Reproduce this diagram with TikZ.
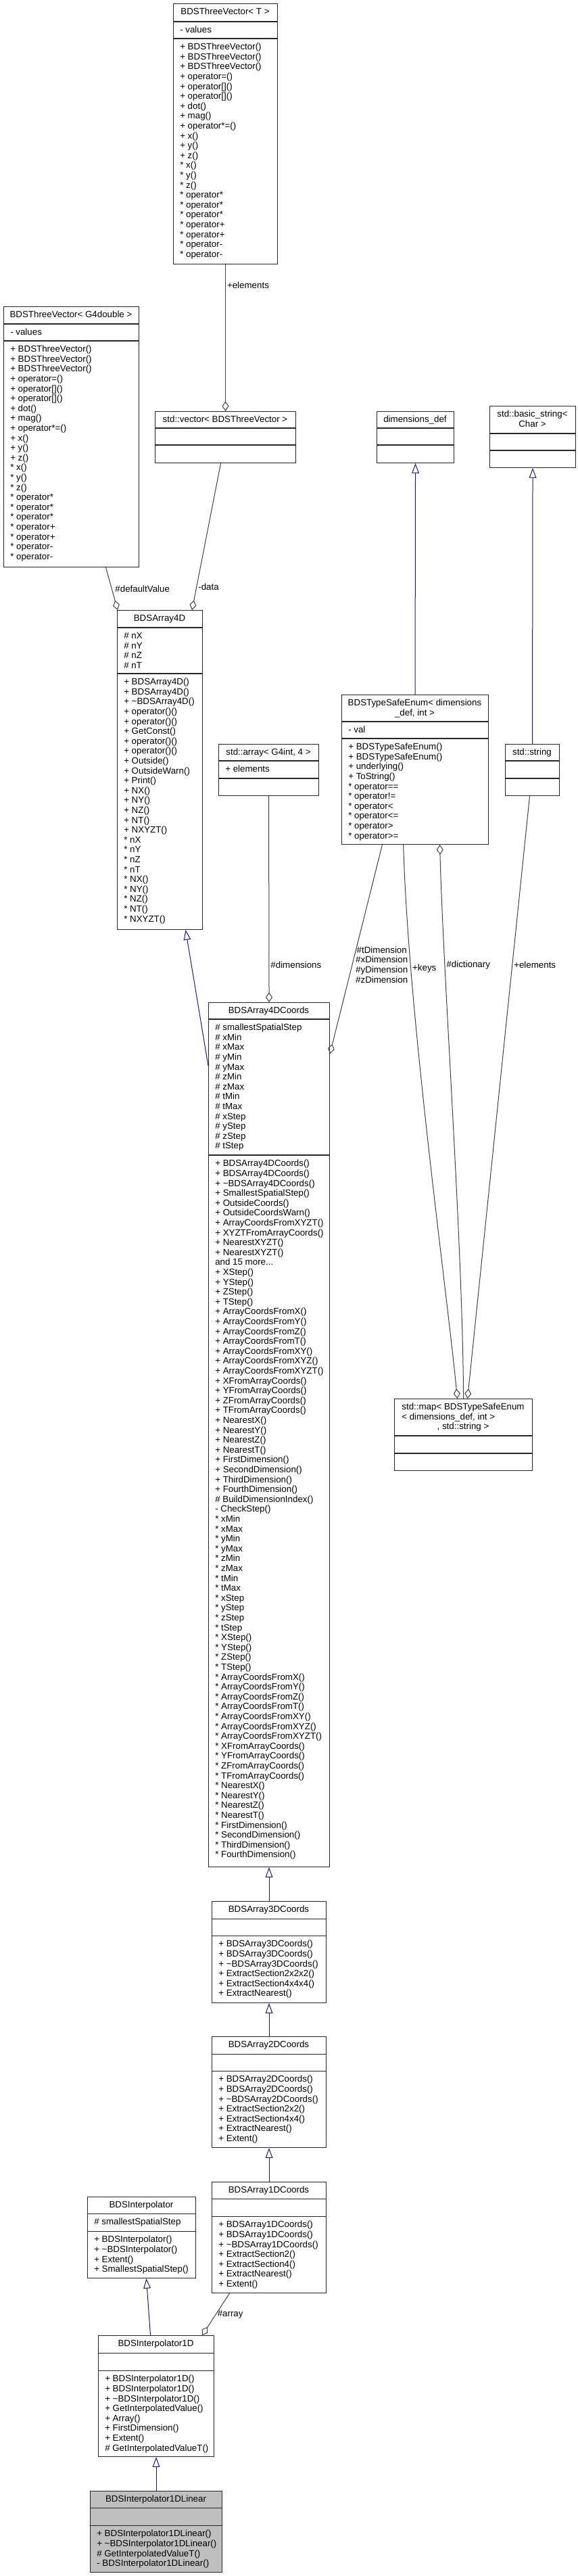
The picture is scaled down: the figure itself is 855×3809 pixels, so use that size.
\documentclass[tikz,border=0pt]{standalone}
\usepackage{fontspec}
\setmainfont{Liberation Sans}
\usetikzlibrary{arrows.meta}
\definecolor{edgegray}{HTML}{404040}
\definecolor{inheritblue}{HTML}{191970}
\definecolor{selfgray}{HTML}{BFBFBF}
\newcommand{\umlfont}{\fontsize{10}{10.95}\selectfont}
\newcommand{\umlstrut}{\rule{0pt}{9pt}}
\tikzset{
  classbox/.style={draw=black!85, line width=0.8pt, fill=white, anchor=north west, inner sep=0pt},
  classline/.style={draw=black!85, line width=0.8pt},
  titletext/.style={anchor=north, yshift=9pt, align=center, inner sep=0pt, font=\umlfont},
  membertext/.style={anchor=north west, yshift=9pt, align=left, inner sep=0pt, font=\umlfont},
  edgelabel/.style={inner sep=1.5pt, align=center, font=\umlfont},
  aggr/.style={draw=edgegray, line width=0.75pt, -{Diamond[open, length=11pt, width=7.5pt]}},
  inherit/.style={draw=inheritblue, line width=0.75pt, -{Triangle[open, length=11pt, width=8pt]}}
}
\newcommand{\umlclass}[9][]{%
  \node[classbox, #1, minimum width={(#4-#3)*0.75pt}, minimum height={(#8-#5)*0.75pt}] (#2) at (#3,#5) {};
  \draw[classline] (#3,#6) -- (#4,#6) (#3,#7) -- (#4,#7);
  \node[titletext] (#2-title) at ({(#3+#4)/2},#5+16.5) {\umlstrut#9};
  \def\umlname{#2}\def\umlleft{#3}\def\umlattr{#6}\def\umlmeth{#7}%
  \umlmembers}
\newcommand{\umlmembers}[2]{%
  \node[membertext] (\umlname-attr) at (\umlleft+10,\umlattr+16.5) {\umlstrut#1};
  \node[membertext] (\umlname-meth) at (\umlleft+10,\umlmeth+16.5) {\umlstrut#2};}

\begin{document}
\begin{tikzpicture}[x=0.75pt, y=-0.75pt]
\path[use as bounding box, fill=white] (0,0) rectangle (855,3809);
\umlclass{tv}{256}{410}{5}{32}{57}{390}{BDSThreeVector< T >}
  {- values}
  {+ BDSThreeVector()\\+ BDSThreeVector()\\+ BDSThreeVector()\\+ operator=()\\+ operator[]()\\+ operator[]()\\+ dot()\\+ mag()\\+ operator*=()\\+ x()\\+ y()\\+ z()\\{*} x()\\{*} y()\\{*} z()\\{*} operator*\\{*} operator*\\{*} operator*\\{*} operator+\\{*} operator+\\{*} operator-\\{*} operator-}
\umlclass{g4}{5}{205}{453}{479}{504}{838}{BDSThreeVector< G4double >}
  {- values}
  {+ BDSThreeVector()\\+ BDSThreeVector()\\+ BDSThreeVector()\\+ operator=()\\+ operator[]()\\+ operator[]()\\+ dot()\\+ mag()\\+ operator*=()\\+ x()\\+ y()\\+ z()\\{*} x()\\{*} y()\\{*} z()\\{*} operator*\\{*} operator*\\{*} operator*\\{*} operator+\\{*} operator+\\{*} operator-\\{*} operator-}
\umlclass{vec}{229}{437}{608}{633}{658}{684}{std::vector< BDSThreeVector >}{}{}
\umlclass{dimdef}{557}{671}{608}{633}{658}{684}{dimensions\_def}{}{}
\umlclass{bstr}{724}{851}{600}{641}{666}{691}{std::basic\_string<\\Char >}{}{}
\umlclass{a4d}{173}{299}{902}{928}{996}{1374}{BDSArray4D}
  {\# nX\\\# nY\\\# nZ\\\# nT}
  {+ BDSArray4D()\\+ BDSArray4D()\\+ \textasciitilde BDSArray4D()\\+ operator()()\\+ operator()()\\+ GetConst()\\+ operator()()\\+ operator()()\\+ Outside()\\+ OutsideWarn()\\+ Print()\\+ NX()\\+ NY()\\+ NZ()\\+ NT()\\+ NXYZT()\\{*} nX\\{*} nY\\{*} nZ\\{*} nT\\{*} NX()\\{*} NY()\\{*} NZ()\\{*} NT()\\{*} NXYZT()}
\umlclass{arr}{323}{471}{1100}{1125}{1151}{1176}{std::array< G4int, 4 >}{+ elements}{}
\umlclass{enum}{505}{722}{1027}{1067}{1092}{1248}{BDSTypeSafeEnum< dimensions\\\_def, int >}
  {- val}
  {+ BDSTypeSafeEnum()\\+ BDSTypeSafeEnum()\\+ underlying()\\+ ToString()\\{*} operator==\\{*} operator!=\\{*} operator<\\{*} operator<=\\{*} operator>\\{*} operator>=}
\umlclass{str}{747}{827}{1100}{1125}{1151}{1176}{std::string}{}{}
\umlclass{c4}{308}{487}{1482}{1507}{1708}{2760}{BDSArray4DCoords}
  {\# smallestSpatialStep\\\# xMin\\\# xMax\\\# yMin\\\# yMax\\\# zMin\\\# zMax\\\# tMin\\\# tMax\\\# xStep\\\# yStep\\\# zStep\\\# tStep}
  {+ BDSArray4DCoords()\\+ BDSArray4DCoords()\\+ \textasciitilde BDSArray4DCoords()\\+ SmallestSpatialStep()\\+ OutsideCoords()\\+ OutsideCoordsWarn()\\+ ArrayCoordsFromXYZT()\\+ XYZTFromArrayCoords()\\+ NearestXYZT()\\+ NearestXYZT()\\and 15 more...\\+ XStep()\\+ YStep()\\+ ZStep()\\+ TStep()\\+ ArrayCoordsFromX()\\+ ArrayCoordsFromY()\\+ ArrayCoordsFromZ()\\+ ArrayCoordsFromT()\\+ ArrayCoordsFromXY()\\+ ArrayCoordsFromXYZ()\\+ ArrayCoordsFromXYZT()\\+ XFromArrayCoords()\\+ YFromArrayCoords()\\+ ZFromArrayCoords()\\+ TFromArrayCoords()\\+ NearestX()\\+ NearestY()\\+ NearestZ()\\+ NearestT()\\+ FirstDimension()\\+ SecondDimension()\\+ ThirdDimension()\\+ FourthDimension()\\\# BuildDimensionIndex()\\- CheckStep()\\{*} xMin\\{*} xMax\\{*} yMin\\{*} yMax\\{*} zMin\\{*} zMax\\{*} tMin\\{*} tMax\\{*} xStep\\{*} yStep\\{*} zStep\\{*} tStep\\{*} XStep()\\{*} YStep()\\{*} ZStep()\\{*} TStep()\\{*} ArrayCoordsFromX()\\{*} ArrayCoordsFromY()\\{*} ArrayCoordsFromZ()\\{*} ArrayCoordsFromT()\\{*} ArrayCoordsFromXY()\\{*} ArrayCoordsFromXYZ()\\{*} ArrayCoordsFromXYZT()\\{*} XFromArrayCoords()\\{*} YFromArrayCoords()\\{*} ZFromArrayCoords()\\{*} TFromArrayCoords()\\{*} NearestX()\\{*} NearestY()\\{*} NearestZ()\\{*} NearestT()\\{*} FirstDimension()\\{*} SecondDimension()\\{*} ThirdDimension()\\{*} FourthDimension()}
\umlclass{map}{583}{787}{2068}{2123}{2149}{2174}{std::map< BDSTypeSafeEnum\\\makebox[136pt][l]{< dimensions\_def, int >}\\, std::string >}{}{}
\umlclass{c3}{313}{482}{2811}{2837}{2862}{2961}{BDSArray3DCoords}
  {}
  {+ BDSArray3DCoords()\\+ BDSArray3DCoords()\\+ \textasciitilde BDSArray3DCoords()\\+ ExtractSection2x2x2()\\+ ExtractSection4x4x4()\\+ ExtractNearest()}
\umlclass{c2}{313}{482}{3011}{3037}{3062}{3175}{BDSArray2DCoords}
  {}
  {+ BDSArray2DCoords()\\+ BDSArray2DCoords()\\+ \textasciitilde BDSArray2DCoords()\\+ ExtractSection2x2()\\+ ExtractSection4x4()\\+ ExtractNearest()\\+ Extent()}
\umlclass{c1}{313}{482}{3226}{3251}{3277}{3390}{BDSArray1DCoords}
  {}
  {+ BDSArray1DCoords()\\+ BDSArray1DCoords()\\+ \textasciitilde BDSArray1DCoords()\\+ ExtractSection2()\\+ ExtractSection4()\\+ ExtractNearest()\\+ Extent()}
\umlclass{ip}{129}{289}{3248}{3273}{3299}{3368}{BDSInterpolator}
  {\# smallestSpatialStep}
  {+ BDSInterpolator()\\+ \textasciitilde BDSInterpolator()\\+ Extent()\\+ SmallestSpatialStep()}
\umlclass{ip1}{145}{316}{3453}{3479}{3505}{3632}{BDSInterpolator1D}
  {}
  {+ BDSInterpolator1D()\\+ BDSInterpolator1D()\\+ \textasciitilde BDSInterpolator1D()\\+ GetInterpolatedValue()\\+ Array()\\+ FirstDimension()\\+ Extent()\\\# GetInterpolatedValueT()}
\umlclass[fill=selfgray]{lin}{133}{328}{3683}{3708}{3734}{3803}{BDSInterpolator1DLinear}
  {}
  {+ BDSInterpolator1DLinear()\\+ \textasciitilde BDSInterpolator1DLinear()\\\# GetInterpolatedValueT()\\- BDSInterpolator1DLinear()}

\draw[aggr] (tv.south) -- node[edgelabel, right, pos=0.14] {+elements} (vec.north);
\draw[aggr] ([xshift=-5.25pt]vec.south) -- node[edgelabel, right, pos=0.84] {-data} ([xshift=-12pt]a4d.north east);
\draw[aggr] ([xshift=38.25pt]g4.south) -- node[edgelabel, right, pos=0.5, xshift=2pt] {\#defaultValue} ([xshift=0.75pt]a4d.north west);
\draw[inherit] (enum.north) -- (dimdef.south);
\draw[inherit] (str.north) -- (bstr.south);
\draw[aggr] (arr.south) -- node[edgelabel, right, pos=0.82] {\#dimensions} (c4.north);
\draw[inherit] ([yshift=-70.5pt]c4.north west) -- ([xshift=28.5pt]a4d.south);
\draw[aggr] ([xshift=-36.4pt]enum.south) -- node[edgelabel, anchor=west, pos=0.574, xshift=2pt] {\#tDimension\\\#xDimension\\\#yDimension\\\#zDimension} ([yshift=-57pt]c4.north east);
\draw[aggr] ([xshift=-13pt]enum.south) .. controls (604,1500) and (660,1900) .. node[edgelabel, right, pos=0.22] {+keys} ([xshift=-6.75pt]map.north);
\draw[aggr] (map.north) .. controls (685,1850) and (656,1450) .. node[edgelabel, right, pos=0.755] {\#dictionary} ([xshift=27.4pt]enum.south);
\draw[aggr] ([xshift=-3pt]str.south) -- node[edgelabel, right, pos=0.28] {+elements} ([xshift=4.5pt]map.north);
\draw[inherit] (c3.north) -- (c4.south);
\draw[inherit] (c2.north) -- (c3.south);
\draw[inherit] (c1.north) -- (c2.south);
\draw[inherit] ([xshift=-6.4pt]ip1.north) -- ([xshift=5.25pt]ip.south);
\draw[aggr] ([xshift=-43.9pt]c1.south) -- node[edgelabel, right, pos=0.5] {\#array} ([xshift=-13.5pt]ip1.north east);
\draw[inherit] (lin.north) -- (ip1.south);
\end{tikzpicture}
\end{document}
